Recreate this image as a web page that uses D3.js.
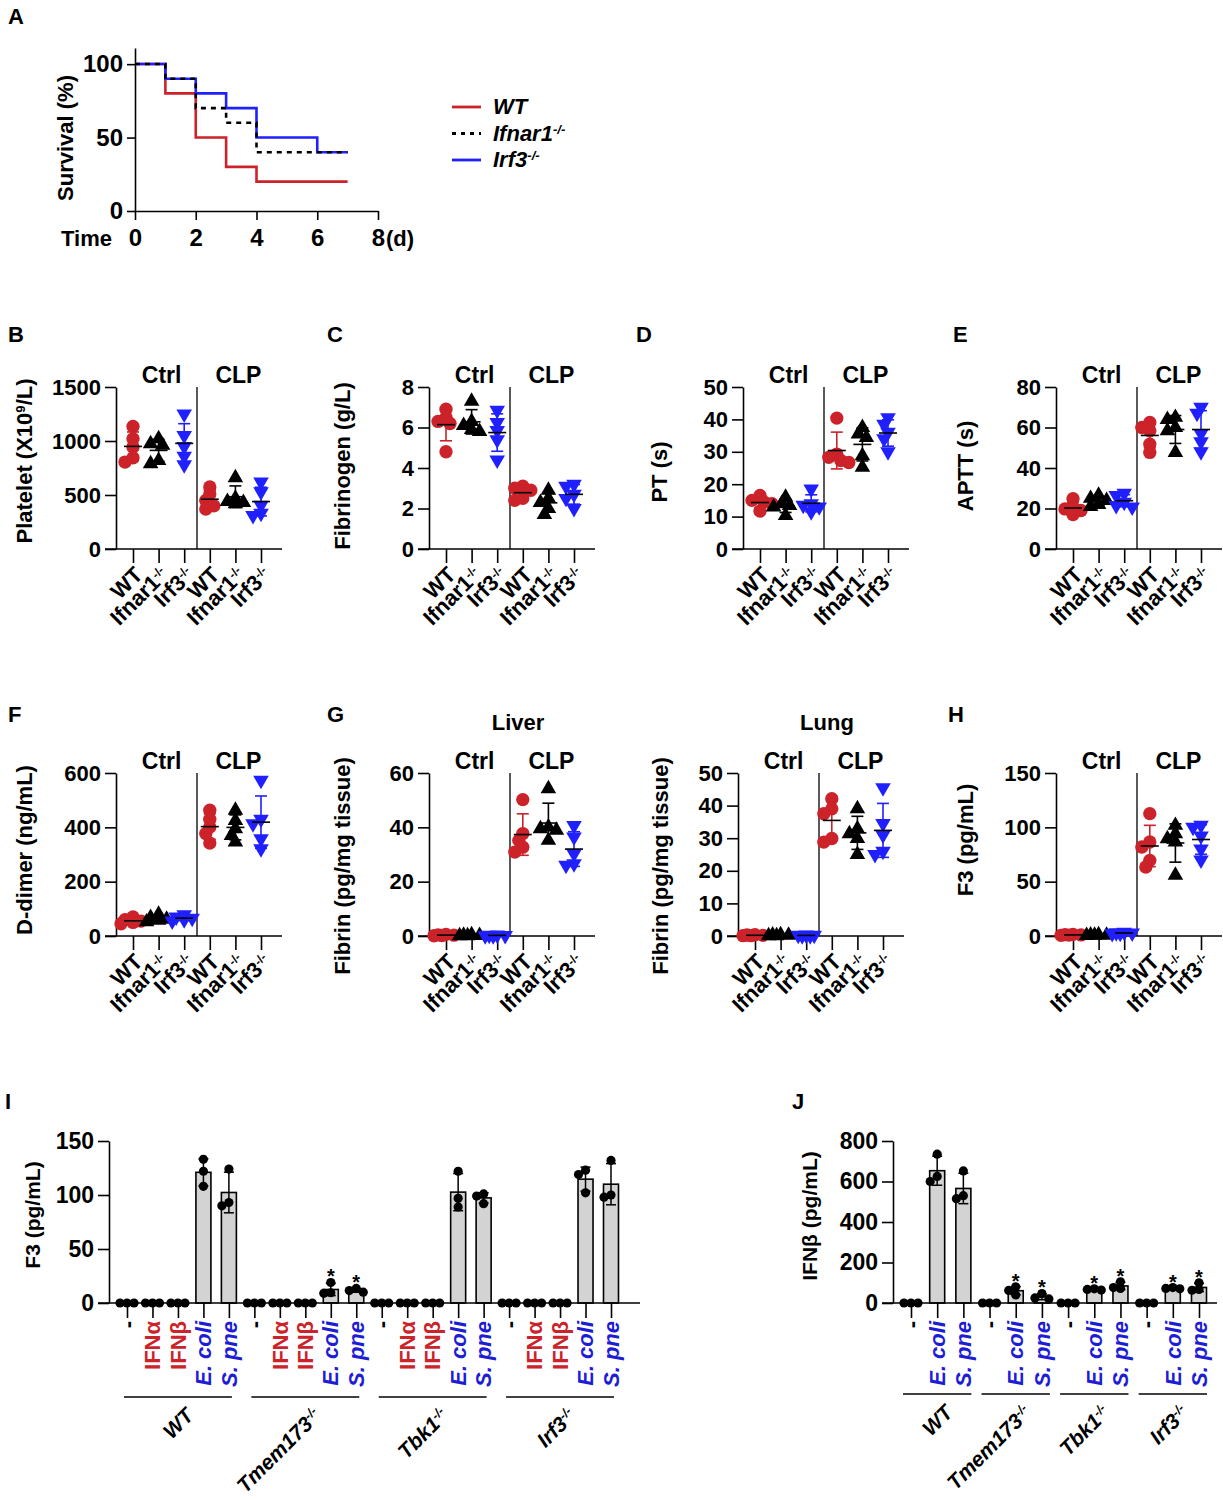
<!DOCTYPE html>
<html>
<head>
<meta charset="utf-8">
<script src="https://cdn.jsdelivr.net/npm/d3@7"></script>
<style>
body { margin: 0; background: #fff; }
svg { font-family: "Liberation Sans", Arial, sans-serif; font-weight: bold; }
</style>
</head>
<body>
<script>
// ---------- data ----------
// A: survival (%)
var survDays = [0, 1, 2, 3, 4, 6, 7];
var survWT = [100, 80, 50, 30, 20, 20, 20];
var survIfnar1 = [100, 90, 70, 60, 40, 40, 40];
var survIrf3 = [100, 90, 80, 70, 50, 40, 40];

// B-H: genotypes x condition, 5 mice each (Ctrl WT, Ifnar1, Irf3, CLP WT, Ifnar1, Irf3)
var genotypes = ["WT", "Ifnar1", "Irf3"];
var conditions = ["Ctrl", "CLP"];
var platelet = [
  [1135, 1020, 945, 845, 805],
  [1020, 975, 960, 820, 790],
  [1250, 1050, 950, 860, 780],
  [575, 510, 450, 400, 370],
  [660, 470, 440, 420, 430],
  [620, 530, 405, 330, 310]
];
var fibrinogen = [
  [6.9, 6.5, 6.3, 6.2, 4.8],
  [7.3, 6.3, 6.1, 5.9, 5.8],
  [6.85, 6.25, 5.85, 5.4, 4.4],
  [3.1, 3.0, 2.9, 2.5, 2.4],
  [2.9, 2.5, 2.3, 2.0, 1.7],
  [3.2, 3.1, 2.7, 2.5, 2.0]
];
var pt = [
  [16.5, 15, 14.5, 14, 11.7],
  [16, 14, 13.4, 13, 10.3],
  [18.5, 14, 13.5, 13, 11.5],
  [40.4, 29.3, 28.3, 27.3, 26.7],
  [37.5, 35.5, 34.4, 28.8, 25.2],
  [40.5, 38.5, 36, 34, 30]
];
var aptt = [
  [24.8, 20.7, 19.8, 19, 17],
  [26.5, 25, 24, 22, 21],
  [27.5, 26.4, 23.1, 21.5, 20.7],
  [62.5, 60, 58.4, 51.8, 47.7],
  [65, 64, 60, 58.4, 47.7],
  [70, 67, 57, 53, 48]
];
var ddimer = [
  [70, 60, 55, 50, 45],
  [80, 68, 62, 58, 52],
  [78, 70, 65, 60, 55],
  [463, 430, 401, 377, 342],
  [463, 425, 395, 370, 346],
  [573, 430, 413, 358, 321]
];
var fibrinLiver = [
  [0.6, 0.4, 0.3, 0.2, 0.1],
  [0.5, 0.3, 0.2, 0.1, 0.1],
  [0.4, 0.3, 0.2, 0.1, 0.1],
  [50.2, 37.7, 35.2, 32.7, 30.9],
  [54.2, 40.1, 39.5, 38.9, 35.2],
  [40.7, 36.4, 30.3, 26.6, 26]
];
var fibrinLung = [
  [0.4, 0.3, 0.2, 0.1, 0.1],
  [0.4, 0.3, 0.2, 0.1, 0.1],
  [0.3, 0.2, 0.2, 0.1, 0.1],
  [42.1, 39, 37.5, 29.9, 28.8],
  [39, 32.9, 31.4, 29.9, 25],
  [45.5, 34.5, 31, 26, 25]
];
var f3Plasma = [
  [1.5, 1.2, 1, 0.8, 0.6],
  [1.2, 1, 0.8, 0.6, 0.5],
  [3.5, 3, 2.8, 2.5, 2.2],
  [112.6, 86.5, 81.9, 69.6, 63.5],
  [101.8, 94.2, 89.6, 86.5, 55.8],
  [102, 100, 92, 80, 70]
];

// I, J: cells, 3 replicates per treatment
var cellGenotypes = ["WT", "Tmem173", "Tbk1", "Irf3"];
var iTreatments = ["-", "IFNα", "IFNβ", "E. coli", "S. pne"];
var f3Cells = [
  [[0, 0, 0], [0, 0, 0], [0, 0, 0], [108, 133, 122], [90, 124, 93]],
  [[0, 0, 0], [0, 0, 0], [0, 0, 0], [9, 19, 9.5], [10, 13.5, 11.5]],
  [[0, 0, 0], [0, 0, 0], [0, 0, 0], [89, 122, 97], [92, 101, 99]],
  [[0, 0, 0], [0, 0, 0], [0, 0, 0], [102, 123, 119], [98, 132, 100]]
];
var f3Signif = [[0, 0, 0, 0, 0], [0, 0, 0, 1, 1], [0, 0, 0, 0, 0], [0, 0, 0, 0, 0]];
var jTreatments = ["-", "E. coli", "S. pne"];
var ifnbCells = [
  [[0, 0, 0], [600, 735, 625], [515, 652, 530]],
  [[0, 0, 0], [40, 80, 62], [20, 47, 25]],
  [[0, 0, 0], [64, 70, 67], [72, 105, 76]],
  [[0, 0, 0], [70, 76, 72], [63, 100, 67]]
];
var ifnbSignif = [[0, 0, 0], [0, 1, 1], [0, 1, 1], [0, 1, 1]];

// ---------- styles ----------
var RED = "#cc2229", BLUE = "#2020ff", LBLUE = "#1d1dd6";
var FONT = "'Liberation Sans', Arial, sans-serif";

var svg = d3.select("body").append("svg")
    .attr("width", 1223)
    .attr("height", 1500);

function styleAxis(sel, fs) {
  sel.attr("font-family", FONT).attr("font-size", fs).attr("font-weight", "bold");
  sel.selectAll("path, line").attr("stroke", "#000").attr("stroke-width", 1.6);
  sel.selectAll("text").attr("fill", "#000");
}

// gene name with -/- superscript
function gene(t, name, ko, supSize) {
  t.append("tspan").text(name);
  if (ko) t.append("tspan").attr("baseline-shift", "super").attr("font-size", supSize || "0.6em").text("-/-");
}

function yLabel(parts, cx, cy, fs) {
  var t = svg.append("text")
      .attr("transform", "translate(" + cx + "," + cy + ") rotate(-90)")
      .attr("text-anchor", "middle")
      .attr("dy", "0.35em")
      .attr("font-size", fs);
  parts.forEach(function(p) {
    var s = t.append("tspan").text(p[0]);
    if (p[1]) s.attr("baseline-shift", "super").attr("font-size", "0.6em");
  });
}

// panel letters
[["A", 8, 24], ["B", 8, 342], ["C", 327, 342], ["D", 636, 342], ["E", 953, 342],
 ["F", 8, 722], ["G", 327, 722], ["H", 948, 722], ["I", 5, 1109], ["J", 792, 1109]]
  .forEach(function(l) {
    svg.append("text").attr("x", l[1]).attr("y", l[2]).attr("font-size", 22).text(l[0]);
  });

// ---------- A: survival ----------
(function() {
  var x = d3.scaleLinear().domain([0, 8]).range([135, 378]);
  var y = d3.scaleLinear().domain([0, 100]).range([211, 64]);
  var ax = svg.append("g").attr("transform", "translate(135,0)")
      .call(d3.axisLeft(y.copy().domain([0, 111]).range([211, 48])).tickValues([0, 50, 100]).tickSize(8).tickSizeOuter(0).tickPadding(4));
  styleAxis(ax, 24);
  var bx = svg.append("g").attr("transform", "translate(0,211)")
      .call(d3.axisBottom(x).tickValues([0, 2, 4, 6, 8]).tickSize(9).tickSizeOuter(0).tickPadding(9));
  styleAxis(bx, 24);
  svg.append("text").attr("x", 386).attr("y", 246).attr("font-size", 22).text("(d)");
  svg.append("text").attr("x", 61).attr("y", 246).attr("font-size", 22).text("Time");
  yLabel([["Survival (%)"]], 65, 138, 22);

  var line = d3.line().x(function(d) { return x(d[0]); }).y(function(d) { return y(d[1]); }).curve(d3.curveStepAfter);
  var series = [
    {v: survWT, c: RED, dash: null, name: "WT", ko: false},
    {v: survIrf3, c: BLUE, dash: null, name: "Irf3", ko: true},
    {v: survIfnar1, c: "#000", dash: "5,5", name: "Ifnar1", ko: true}
  ];
  series.forEach(function(s) {
    svg.append("path")
        .datum(d3.zip(survDays, s.v))
        .attr("d", line)
        .attr("fill", "none")
        .attr("stroke", s.c)
        .attr("stroke-width", 2.6)
        .attr("stroke-dasharray", s.dash);
  });
  // legend (order WT, Ifnar1, Irf3)
  [series[0], series[2], series[1]].forEach(function(s, i) {
    var ly = 107 + i * 26.5;
    svg.append("line").attr("x1", 452).attr("x2", 481).attr("y1", ly).attr("y2", ly)
        .attr("stroke", s.c).attr("stroke-width", 2.8).attr("stroke-dasharray", s.dash ? "4,5" : null);
    var t = svg.append("text").attr("x", 493).attr("y", ly + 7).attr("font-size", 22).attr("font-style", "italic");
    gene(t, s.name, s.ko);
  });
})();

// ---------- B-H: scatter panels ----------
function swarm(vals, y, minD, step) {
  var placed = [];
  var pts = vals.map(function(v) { return {v: v, py: y(v)}; }).sort(function(a, b) { return a.py - b.py; });
  var cands = [0, -step, step, -2 * step, 2 * step, -3 * step, 3 * step];
  pts.forEach(function(p) {
    var best = 0, bestD = -1;
    for (var k = 0; k < cands.length; k++) {
      var dx = cands[k];
      var d = d3.min(placed, function(q) { return Math.hypot(q.dx - dx, q.py - p.py); });
      if (d === undefined) d = 1e9;
      if (d >= minD) { best = dx; bestD = 1e9; break; }
      if (d > bestD) { bestD = d; best = dx; }
    }
    p.dx = best;
    placed.push(p);
  });
  return pts;
}

var markerTypes = [
  {sym: d3.symbolCircle, size: 140, c: RED, rot: 0},
  {sym: d3.symbolTriangle, size: 105, c: "#000", rot: 0},
  {sym: d3.symbolTriangle, size: 105, c: BLUE, rot: 180}
];

var scatterPanels = [
  {vals: platelet, ax: 116, top: 387, base: 549, max: 1500, ticks: [0, 500, 1000, 1500], label: [["Platelet (X10"], ["9", 1], ["/L)"]], lx: 24, ly: 461},
  {vals: fibrinogen, ax: 429, top: 387, base: 549, max: 8, ticks: [0, 2, 4, 6, 8], label: [["Fibrinogen (g/L)"]], lx: 342, ly: 466},
  {vals: pt, ax: 743, top: 387, base: 549, max: 50, ticks: [0, 10, 20, 30, 40, 50], label: [["PT (s)"]], lx: 659, ly: 472},
  {vals: aptt, ax: 1056, top: 387, base: 549, max: 80, ticks: [0, 20, 40, 60, 80], label: [["APTT (s)"]], lx: 965, ly: 466},
  {vals: ddimer, ax: 116, top: 773, base: 936, max: 600, ticks: [0, 200, 400, 600], label: [["D-dimer (ng/mL)"]], lx: 24, ly: 850},
  {vals: fibrinLiver, ax: 429, top: 773, base: 936, max: 60, ticks: [0, 20, 40, 60], label: [["Fibrin (pg/mg tissue)"]], lx: 342, ly: 866, title: "Liver"},
  {vals: fibrinLung, ax: 738, top: 773, base: 936, max: 50, ticks: [0, 10, 20, 30, 40, 50], label: [["Fibrin (pg/mg tissue)"]], lx: 660, ly: 866, title: "Lung"},
  {vals: f3Plasma, ax: 1056, top: 773, base: 936, max: 150, ticks: [0, 50, 100, 150], label: [["F3 (pg/mL)"]], lx: 965, ly: 840}
];

scatterPanels.forEach(function(p) {
  var y = d3.scaleLinear().domain([0, p.max]).range([p.base, p.top]);
  var x = d3.scalePoint().domain(d3.range(6)).range([p.ax + 17, p.ax + 145]);

  var ya = svg.append("g").attr("transform", "translate(" + p.ax + ",0)")
      .call(d3.axisLeft(y).tickValues(p.ticks).tickFormat(d3.format("d")).tickSize(11).tickSizeOuter(0).tickPadding(4));
  styleAxis(ya, 22);

  var xa = svg.append("g").attr("transform", "translate(0," + p.base + ")")
      .call(d3.axisBottom(x).tickSize(14).tickFormat(""));
  xa.select(".domain").remove();
  styleAxis(xa, 19);
  svg.append("line").attr("x1", p.ax - 11).attr("x2", p.ax + 166).attr("y1", p.base).attr("y2", p.base)
      .attr("stroke", "#000").attr("stroke-width", 1.6);

  var divX = (x(2) + x(3)) / 2;
  svg.append("line").attr("x1", divX).attr("x2", divX).attr("y1", p.top).attr("y2", p.base)
      .attr("stroke", "#000").attr("stroke-width", 1.3);

  conditions.forEach(function(c, i) {
    svg.append("text").attr("x", x(i * 3 + 1) + 3).attr("y", p.top - 4)
        .attr("text-anchor", "middle").attr("font-size", 23).text(c);
  });
  if (p.title) {
    svg.append("text").attr("x", (x(2) + x(3)) / 2 + 8).attr("y", 730)
        .attr("text-anchor", "middle").attr("font-size", 22).text(p.title);
  }

  // category labels
  d3.range(6).forEach(function(i) {
    var g = i % 3;
    var t = svg.append("text")
        .attr("transform", "translate(" + (x(i) + 11) + "," + (p.base + 27) + ") rotate(-45)")
        .attr("text-anchor", "end")
        .attr("font-size", 22);
    gene(t, genotypes[g], g > 0, "0.55em");
  });

  yLabel(p.label, p.lx, p.ly, 22);

  // points + mean/SD
  p.vals.forEach(function(vals, i) {
    var m = markerTypes[i % 3];
    var cx = x(i);
    var pts = swarm(vals, y, 7, 4);
    svg.selectAll(null).data(pts).enter().append("path")
        .attr("d", d3.symbol().type(m.sym).size(m.size))
        .attr("transform", function(d) { return "translate(" + (cx + d.dx) + "," + d.py + ") rotate(" + m.rot + ")"; })
        .attr("fill", m.c);
    var mean = d3.mean(vals), sd = d3.deviation(vals);
    var eb = svg.append("g").attr("stroke", m.c).attr("stroke-width", 1.6);
    eb.append("line").attr("x1", cx).attr("x2", cx).attr("y1", y(mean - sd)).attr("y2", y(mean + sd));
    [mean - sd, mean + sd].forEach(function(v) {
      eb.append("line").attr("x1", cx - 6).attr("x2", cx + 6).attr("y1", y(v)).attr("y2", y(v));
    });
    svg.append("line").attr("x1", cx - 9).attr("x2", cx + 9).attr("y1", y(mean)).attr("y2", y(mean))
        .attr("stroke", "#000").attr("stroke-width", 1.6);
  });
});

// ---------- I, J: bar panels ----------
function barPanel(p) {
  var nT = p.treatments.length;
  var n = nT * cellGenotypes.length;
  var y = d3.scaleLinear().domain([0, p.max]).range([p.base, p.top]);
  var x = d3.scalePoint().domain(d3.range(n)).range([p.first, p.last]);

  var ya = svg.append("g").attr("transform", "translate(" + p.ax + ",0)")
      .call(d3.axisLeft(y).tickValues(p.ticks).tickSize(11).tickSizeOuter(0).tickPadding(4));
  styleAxis(ya, 23);
  var xa = svg.append("g").attr("transform", "translate(0," + p.base + ")")
      .call(d3.axisBottom(x).tickSize(15).tickFormat(""));
  xa.select(".domain").remove();
  styleAxis(xa, 19);

  yLabel(p.label, p.lx, p.ly, 21);

  p.data.forEach(function(gv, gi) {
    gv.forEach(function(vals, ti) {
      var idx = gi * nT + ti;
      var cx = x(idx);
      var mean = d3.mean(vals), sd = d3.deviation(vals);
      svg.append("rect").attr("x", cx - 7.5).attr("width", 15)
          .attr("y", y(mean)).attr("height", p.base - y(mean))
          .attr("fill", "#d3d3d3").attr("stroke", "#000").attr("stroke-width", 1.6);
      var pts = swarm(vals, y, 6, 7);
      svg.selectAll(null).data(pts).enter().append("circle")
          .attr("cx", function(d) { return cx + d.dx; })
          .attr("cy", function(d) { return d.py; })
          .attr("r", 4.6).attr("fill", "#000");
      if (sd > 0) {
        var eb = svg.append("g").attr("stroke", "#000").attr("stroke-width", 1.5);
        eb.append("line").attr("x1", cx).attr("x2", cx).attr("y1", y(mean - sd)).attr("y2", y(mean + sd));
        [mean - sd, mean + sd].forEach(function(v) {
          eb.append("line").attr("x1", cx - 5).attr("x2", cx + 5).attr("y1", y(v)).attr("y2", y(v));
        });
      }
      if (p.signif[gi][ti]) {
        svg.append("text").attr("x", cx).attr("y", y(Math.max(d3.max(vals), mean + sd)) + 1)
            .attr("text-anchor", "middle").attr("font-size", 20).text("*");
      }
      // treatment label
      var tr = p.treatments[ti];
      var col = tr === "-" ? "#000" : (tr.indexOf("IFN") === 0 ? RED : LBLUE);
      svg.append("text")
          .attr("transform", "translate(" + cx + "," + (p.base + 18) + ") rotate(-90)")
          .attr("text-anchor", "end").attr("dy", "0.35em")
          .attr("font-size", 22)
          .attr("font-style", tr.indexOf(".") > 0 ? "italic" : null)
          .attr("fill", col)
          .text(tr);
    });
    // genotype underline + label
    var x0 = x(gi * nT) - p.pad, x1 = x(gi * nT + nT - 1) + p.pad;
    svg.append("line").attr("x1", x0).attr("x2", x1).attr("y1", p.uy).attr("y2", p.uy)
        .attr("stroke", "#000").attr("stroke-width", 1.4);
    var t = svg.append("text")
        .attr("transform", "translate(" + ((x0 + x1) / 2 + 17) + "," + (p.uy + 20) + ") rotate(-45)")
        .attr("text-anchor", "end").attr("font-size", 21).attr("font-style", "italic");
    gene(t, cellGenotypes[gi], gi > 0);
  });

  svg.append("line").attr("x1", p.ax - 11).attr("x2", p.xEnd).attr("y1", p.base).attr("y2", p.base)
      .attr("stroke", "#000").attr("stroke-width", 1.6);
}

barPanel({data: f3Cells, signif: f3Signif, treatments: iTreatments, ax: 109, first: 127, last: 611, xEnd: 640,
          top: 1141, base: 1303, max: 150, ticks: [0, 50, 100, 150], label: [["F3 (pg/mL)"]], lx: 33, ly: 1215, uy: 1397, pad: 3});
barPanel({data: ifnbCells, signif: ifnbSignif, treatments: jTreatments, ax: 893, first: 911, last: 1199, xEnd: 1217,
          top: 1141, base: 1303, max: 800, ticks: [0, 200, 400, 600, 800], label: [["IFNβ (pg/mL)"]], lx: 810, ly: 1216, uy: 1394, pad: 8});
</script>
</body>
</html>
